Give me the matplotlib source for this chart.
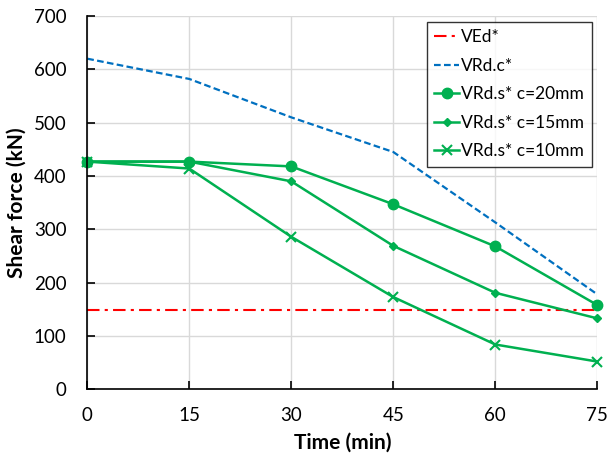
import matplotlib
matplotlib.use("Agg")
import matplotlib.pyplot as plt

time_min = [0, 15, 30, 45, 60, 75]
ved = [148, 148, 148, 148, 148, 148]
vrd_c = [620, 582, 510, 445, 313, 178]
vrd_s_20 = [427, 427, 418, 347, 268, 158]
vrd_s_15 = [427, 427, 390, 269, 181, 133]
vrd_s_10 = [427, 414, 286, 173, 84, 52]
x_ticks = [0, 15, 30, 45, 60, 75]
y_ticks = [0, 100, 200, 300, 400, 500, 600, 700]

plt.rcParams['font.family'] = ['Lato', 'DejaVu Sans']

fig = plt.figure(figsize=(6.09, 4.58), dpi=100)
ax = fig.add_axes([0.1433, 0.150, 0.8375, 0.815])

green = '#00B050'
ax.plot(time_min, ved, color='#FF0000', linestyle=(0, (6, 2.5, 1.5, 2.5)), lw=1.5, label='VEd*')
ax.plot(time_min, vrd_c, color='#0070C0', linestyle=(0, (3, 1.5)), lw=1.6, label='VRd.c*')
ax.plot(time_min, vrd_s_20, color=green, lw=1.8, marker='o', ms=7.5, label='VRd.s* c=20mm', clip_on=False)
ax.plot(time_min, vrd_s_15, color=green, lw=1.8, marker='D', ms=4.5, label='VRd.s* c=15mm', clip_on=False)
ax.plot(time_min, vrd_s_10, color=green, lw=1.8, marker='x', ms=7, mew=1.5, label='VRd.s* c=10mm', clip_on=False)

ax.set_xlim(0, 75)
ax.set_ylim(0, 700)
ax.set_xticks(x_ticks)
ax.set_yticks(y_ticks)
ax.grid(True, color='#D9D9D9', lw=1)
ax.set_axisbelow(True)
for s in ['top', 'right']:
    ax.spines[s].set_visible(False)
for s in ['left', 'bottom']:
    ax.spines[s].set_linewidth(1.2)
    ax.spines[s].set_color('black')
ax.tick_params(direction='in', length=6, width=1.2, labelsize=13.5, colors='black')
ax.tick_params(axis='x', pad=13)
ax.tick_params(axis='y', pad=15)
ax.set_xlabel('Time (min)', fontsize=15, fontweight='bold', labelpad=6)
ax.set_ylabel('Shear force (kN)', fontsize=15, fontweight='bold', labelpad=5)

leg = ax.legend(loc='upper right', bbox_to_anchor=(0.99, 0.985), fontsize=12.5, frameon=True,
                fancybox=False, edgecolor='black', handlelength=1.4, handletextpad=0.15,
                labelspacing=0.72, borderpad=0.45, borderaxespad=0.0)
leg.get_frame().set_linewidth(1.0)

fig.savefig('out.png', dpi=100)
